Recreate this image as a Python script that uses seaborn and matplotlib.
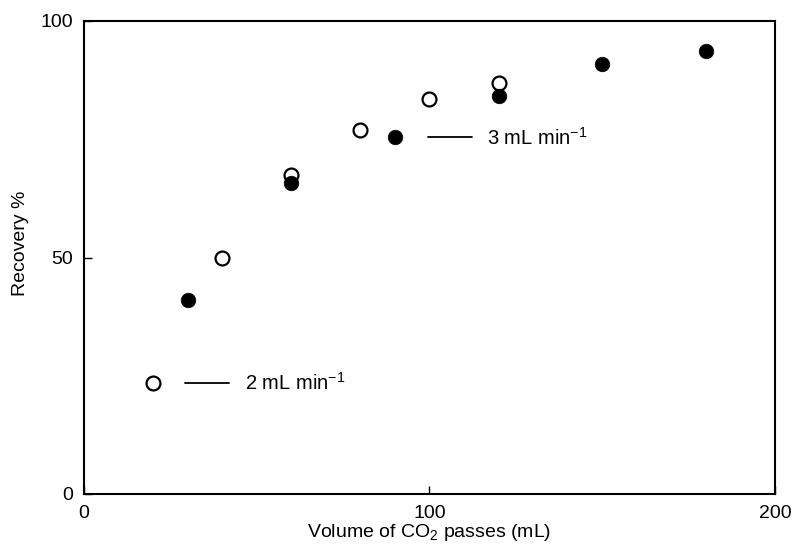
import numpy as np
import pandas as pd
import matplotlib
matplotlib.use("Agg")
import matplotlib.pyplot as plt
import seaborn as sns

# 2 mL/min (open circles) and 3 mL/min (filled circles)
vol_2 = [20, 40, 60, 80, 100, 120]
rec_2 = [23.5, 50.0, 67.4, 76.9, 83.5, 86.9]
vol_3 = [30, 60, 90, 120, 150, 180]
rec_3 = [41.1, 65.7, 75.4, 84.1, 90.9, 93.6]

x_ticks = [0, 100, 200]
y_ticks = [0, 50, 100]

sns.set_style("ticks")
plt.rcParams['font.family'] = ['Liberation Sans', 'DejaVu Sans']
plt.rcParams['mathtext.fontset'] = 'custom'
plt.rcParams['mathtext.rm'] = 'Liberation Sans'
plt.rcParams['mathtext.it'] = 'Liberation Sans'
plt.rcParams['text.color'] = 'black'
plt.rcParams['axes.labelcolor'] = 'black'
plt.rcParams['xtick.color'] = 'black'
plt.rcParams['ytick.color'] = 'black'
plt.rcParams['axes.edgecolor'] = 'black'

df2 = pd.DataFrame({"vol": vol_2, "rec": rec_2})
df3 = pd.DataFrame({"vol": vol_3, "rec": rec_3})

fig = plt.figure(figsize=(8.03, 5.49), dpi=100)
ax = fig.add_axes([84 / 803, 1 - 494 / 549, 691 / 803, 473 / 549])

sns.scatterplot(data=df2, x="vol", y="rec", ax=ax, s=100, facecolor="white",
                edgecolor="black", linewidth=1.6, zorder=3)
sns.scatterplot(data=df3, x="vol", y="rec", ax=ax, s=110, color="black",
                edgecolor="black", linewidth=0.5, zorder=3)

# inline labels next to one point of each series
ax.plot([29.2, 42.0], [rec_2[0], rec_2[0]], color="black", lw=1.3)
ax.text(46.6, rec_2[0], r"2 mL min$^{-1}$", fontsize=14.5, va="center", ha="left")
ax.plot([99.6, 112.3], [rec_3[2], rec_3[2]], color="black", lw=1.3)
ax.text(116.6, rec_3[2], r"3 mL min$^{-1}$", fontsize=14.5, va="center", ha="left")

ax.set_xlim(0, 200)
ax.set_ylim(0, 100)
ax.set_xticks(x_ticks)
ax.set_yticks(y_ticks)
ax.tick_params(direction="in", length=6, width=1, labelsize=14, pad=8)
for sp in ax.spines.values():
    sp.set_linewidth(1.5)
    sp.set_visible(True)

ax.set_xlabel(r"Volume of CO$_2$ passes (mL)", fontsize=14, labelpad=0)
ax.set_ylabel("Recovery %", fontsize=14)
ax.yaxis.set_label_coords(-0.08, 0.53)

fig.savefig("out.png", dpi=100)
